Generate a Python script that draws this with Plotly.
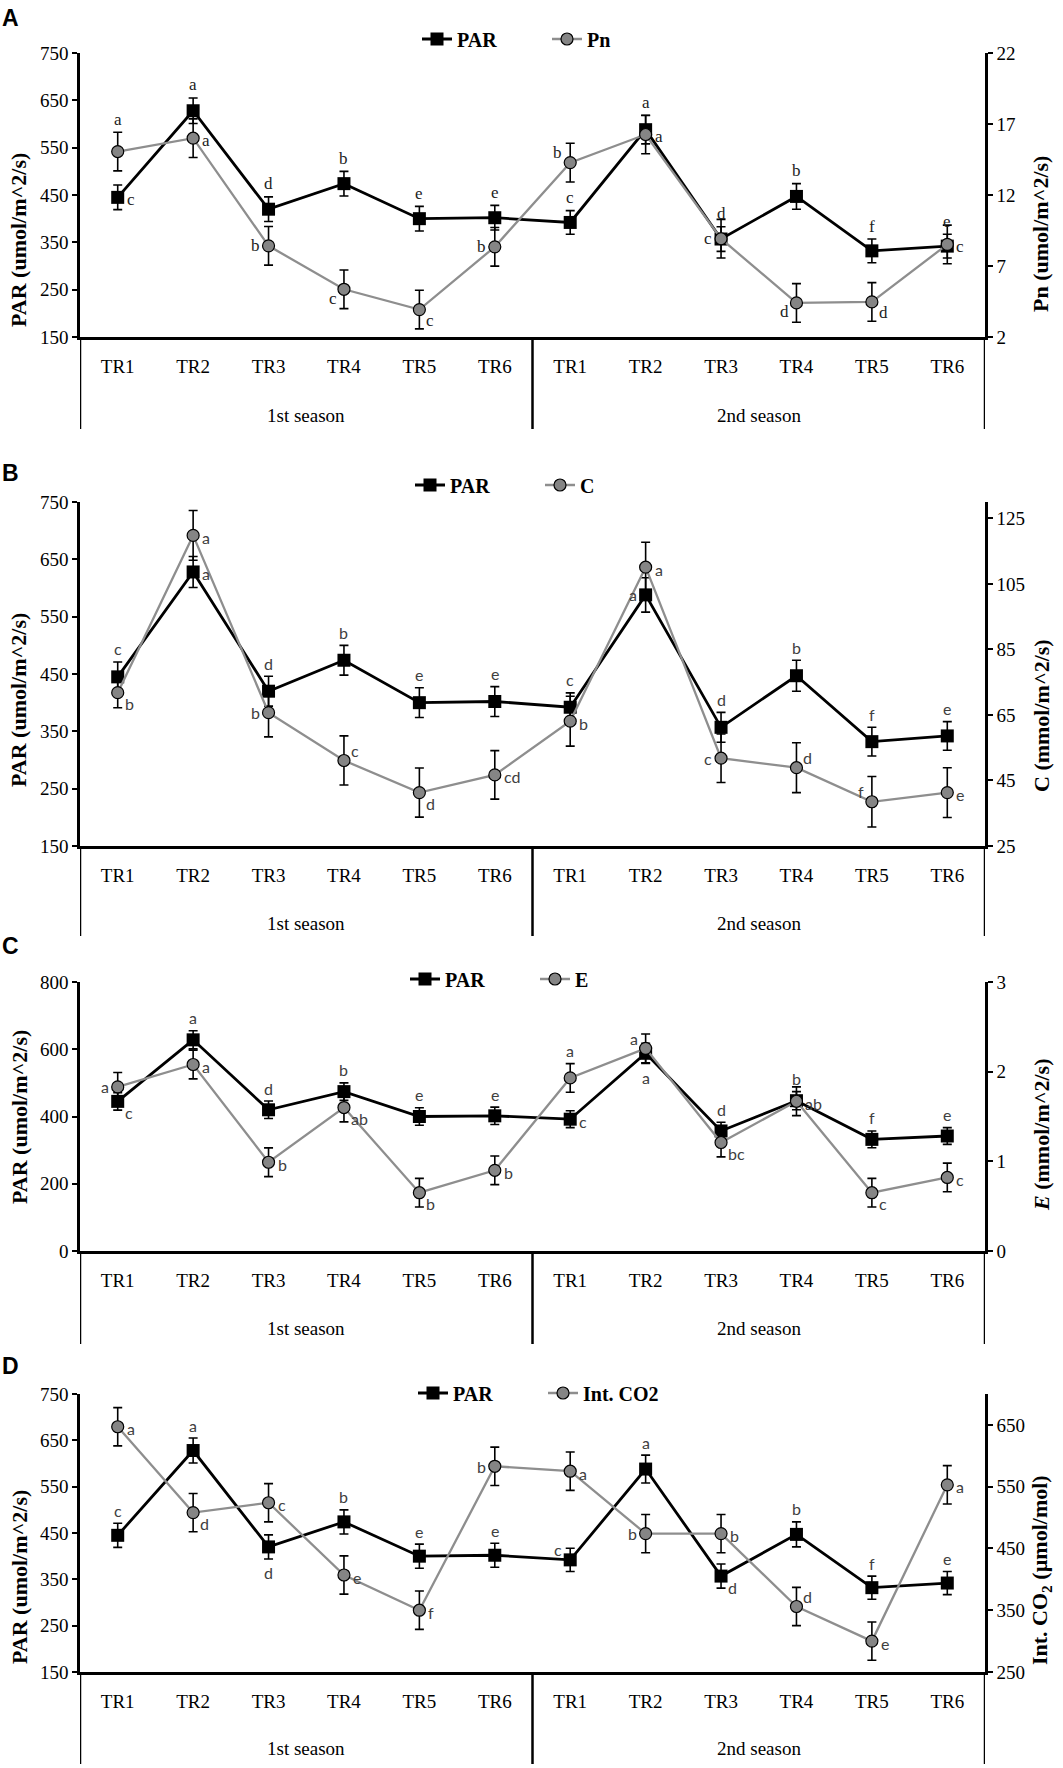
import plotly.graph_objects as go

# ---------------- data ----------------
seasons = ["1st season"] * 6 + ["2nd season"] * 6
treatments = ["TR1", "TR2", "TR3", "TR4", "TR5", "TR6"] * 2

par = [445, 628, 420, 474, 400, 402, 392, 588, 357, 447, 332, 342]
par_err = [26, 27, 26, 26, 26, 26, 25, 30, 26, 27, 25, 25]

pn = [15.06, 16.0, 8.42, 5.36, 3.93, 8.35, 14.28, 16.26, 8.92, 4.40, 4.47, 8.52]
pn_err = [1.36] * 12

cond = [71.8, 119.8, 65.7, 51.1, 41.3, 46.7, 63.1, 110.1, 51.8, 48.9, 38.5, 41.3]
cond_err = [4.6, 7.6, 7.4, 7.5, 7.5, 7.4, 7.6, 7.6, 7.4, 7.6, 7.7, 7.6]

evap = [1.83, 2.08, 0.99, 1.60, 0.65, 0.90, 1.93, 2.26, 1.21, 1.67, 0.65, 0.82]
evap_err = [0.16] * 12

co2 = [647, 508, 524, 407, 350, 583, 575, 474, 474, 356, 300, 553]
co2_err = [31] * 12

# significance letters
par_letters = ["c", "a", "d", "b", "e", "e", "c", "a", "d", "b", "f", "e"]
pn_letters = ["a", "a", "b", "c", "c", "b", "b", "a", "c", "d", "d", "c"]
cond_letters = ["b", "a", "b", "c", "d", "cd", "b", "a", "c", "d", "f", "e"]
evap_letters = ["a", "a", "b", "ab", "b", "b", "a", "a", "bc", "ab", "c", "c"]
co2_letters = ["a", "d", "c", "e", "f", "b", "a", "b", "b", "d", "e", "a"]

# letter placement codes (relative to marker)
A_par_pos = ["r", "t", "t", "t", "t", "t", "t", "t", "t", "t", "t", "t"]
A_sec_pos = ["t", "r", "l", "bl", "br", "l", "tl", "r", "l", "bl", "br", "r"]
B_par_pos = ["t", "r", "t", "t", "t", "t", "t", "l", "t", "t", "t", "t"]
B_sec_pos = ["br", "r", "l", "tr", "br", "r", "r", "r", "l", "tr", "tl", "r"]
C_par_pos = ["br", "t", "t", "t", "t", "t", "r", "b", "t", "t", "t", "t"]
C_sec_pos = ["l", "r", "r", "br", "br", "r", "t", "tl", "br", "r", "br", "r"]
D_par_pos = ["t", "t", "b", "t", "t", "t", "tl", "t", "br", "t", "t", "t"]
D_sec_pos = ["r", "br", "r", "r", "r", "l", "r", "l", "r", "tr", "r", "r"]

# ---------------- layout geometry ----------------
W, H = 1063, 1768
X0, X1 = 80 / W, 985 / W

panels = [
    dict(label="A", top=53, axis=337, season_y=415, bottom=429, labely=18, legy=39, legx=547,
         ltitle_y=240, rtitle_y=234,
         lrange=[150, 750], ltick=list(range(150, 751, 100)),
         rrange=[2, 22], rtick=[2, 7, 12, 17, 22],
         sec=pn, sec_err=pn_err, sec_letters=pn_letters, sec_name="Pn",
         rtitle="Pn (umol/m^2/s)", par_pos=A_par_pos, sec_pos=A_sec_pos,
         letterfont="Liberation Serif", lettercolor="#222222", lettersize=17),
    dict(label="B", top=502, axis=846, season_y=923, bottom=936, labely=473, legy=485, legx=540,
         ltitle_y=700, rtitle_y=716,
         lrange=[150, 750], ltick=list(range(150, 751, 100)),
         rrange=[25, 130], rtick=[25, 45, 65, 85, 105, 125],
         sec=cond, sec_err=cond_err, sec_letters=cond_letters, sec_name="C",
         rtitle="C (mmol/m^2/s)", par_pos=B_par_pos, sec_pos=B_sec_pos,
         letterfont="Lato", lettercolor="#404040", lettersize=16),
    dict(label="C", top=982, axis=1251, season_y=1328, bottom=1344, labely=946, legy=979, legx=535,
         ltitle_y=1117, rtitle_y=1135,
         lrange=[0, 800], ltick=[0, 200, 400, 600, 800],
         rrange=[0, 3], rtick=[0, 1, 2, 3],
         sec=evap, sec_err=evap_err, sec_letters=evap_letters, sec_name="E",
         rtitle="<i>E</i> (mmol/m^2/s)", par_pos=C_par_pos, sec_pos=C_sec_pos,
         letterfont="Lato", lettercolor="#404040", lettersize=16),
    dict(label="D", top=1394, axis=1672, season_y=1748, bottom=1764, labely=1366, legy=1393, legx=543,
         ltitle_y=1577, rtitle_y=1570,
         lrange=[150, 750], ltick=list(range(150, 751, 100)),
         rrange=[250, 700], rtick=[250, 350, 450, 550, 650],
         sec=co2, sec_err=co2_err, sec_letters=co2_letters, sec_name="Int. CO2",
         rtitle="Int. CO<sub>2</sub> (µmol/mol)", par_pos=D_par_pos, sec_pos=D_sec_pos,
         letterfont="Lato", lettercolor="#404040", lettersize=16),
]

SERIF = "Liberation Serif"
offsets = {
    "r": ("left", 7, -2), "l": ("right", -7, 0),
    "tr": ("left", 5, 10), "tl": ("right", -6, 10),
    "br": ("left", 5, -11), "bl": ("right", -5, -9),
    "t": ("center", 0, 13), "b": ("center", 0, -14),
}

xpos = list(range(len(treatments)))
season_names = list(dict.fromkeys(seasons))
season_centers = [sum(i for i, s in enumerate(seasons) if s == n) / seasons.count(n)
                  for n in season_names]
# group boundaries (outer edges and between seasons)
bounds = [-0.5] + [i + 0.5 for i in range(len(seasons) - 1) if seasons[i] != seasons[i + 1]] \
         + [len(seasons) - 0.5]

fig = go.Figure()
layout = dict(width=W, height=H, margin=dict(l=0, r=0, t=0, b=0, autoexpand=False),
              plot_bgcolor="white", paper_bgcolor="white", template="none",
              font=dict(family=SERIF, color="black", size=19))
annotations = []
shapes = []

for k, p in enumerate(panels, start=1):
    xa = "x" if k == 1 else f"x{k}"
    ya = "y" if k == 1 else f"y{k}"
    yb = f"y{k + 4}"
    leg = "legend" if k == 1 else f"legend{k}"
    dom = [1 - p["axis"] / H, 1 - p["top"] / H]

    fig.add_trace(go.Scatter(
        x=xpos, y=par, name="PAR", xaxis=xa, yaxis=ya, legend=leg,
        mode="lines+markers",
        line=dict(color="black", width=2.8),
        marker=dict(symbol="square", size=13, color="black"),
        error_y=dict(type="data", array=par_err, color="black", thickness=1.6, width=4.5),
        cliponaxis=False))
    fig.add_trace(go.Scatter(
        x=xpos, y=p["sec"], name=p["sec_name"], xaxis=xa, yaxis=yb, legend=leg,
        mode="lines+markers",
        line=dict(color="#8e8e8e", width=2.3),
        marker=dict(symbol="circle", size=12, color="#858585",
                    line=dict(color="black", width=1.2)),
        error_y=dict(type="data", array=p["sec_err"], color="black", thickness=1.6, width=4.5),
        cliponaxis=False))

    axkey = "xaxis" if k == 1 else f"xaxis{k}"
    layout[axkey] = dict(
        domain=[X0, X1], anchor=ya, range=[-0.5, len(xpos) - 0.5], automargin=False,
        tickvals=xpos, ticktext=treatments,
        showline=True, linecolor="black", linewidth=3,
        ticks="", ticklabelstandoff=10, showgrid=False, zeroline=False,
        tickfont=dict(family=SERIF, size=19, color="black"))
    ykey = "yaxis" if k == 1 else f"yaxis{k}"
    layout[ykey] = dict(
        domain=dom, anchor=xa, range=p["lrange"], tickvals=p["ltick"], automargin=False,
        showline=True, linecolor="black", linewidth=2.5,
        ticks="outside", ticklen=5, tickwidth=2, tickcolor="black",
        showgrid=False, zeroline=False,
        tickfont=dict(family=SERIF, size=19, color="black"))
    layout[f"yaxis{k + 4}"] = dict(
        domain=dom, anchor=xa, overlaying=ya, side="right", automargin=False,
        range=p["rrange"], tickvals=p["rtick"],
        showline=True, linecolor="black", linewidth=2.5,
        ticks="outside", ticklen=5, tickwidth=2, tickcolor="black",
        showgrid=False, zeroline=False,
        tickfont=dict(family=SERIF, size=19, color="black"))
    layout[leg] = dict(
        orientation="h", x=p["legx"] / W, xanchor="center",
        y=1 - p["legy"] / H, yanchor="middle",
        bgcolor="rgba(0,0,0,0)", entrywidth=85,
        font=dict(family=SERIF, size=20, color="black", weight="bold"))

    # group dividers below the category axis
    for b in bounds:
        shapes.append(dict(
            type="line", xref=xa, yref="paper", x0=b, x1=b,
            y0=1 - p["axis"] / H, y1=1 - p["bottom"] / H,
            line=dict(color="black", width=2.5)))
    # season labels
    for name, cx in zip(season_names, season_centers):
        annotations.append(dict(
            text=name, xref=xa, yref="paper", x=cx, y=1 - p["season_y"] / H,
            xanchor="center", yanchor="middle", showarrow=False,
            font=dict(family=SERIF, size=19, color="black")))

    # panel label
    annotations.append(dict(
        text=f"<b>{p['label']}</b>", xref="paper", yref="paper",
        x=0.0, y=1 - p["labely"] / H, xanchor="left", yanchor="middle",
        showarrow=False, font=dict(family="Liberation Sans", size=23, color="black")))
    # axis titles
    annotations.append(dict(
        text="<b>PAR (umol/m^2/s)</b>", xref="paper", yref="paper",
        x=19 / W, y=1 - p["ltitle_y"] / H, textangle=-90,
        xanchor="center", yanchor="middle", showarrow=False,
        font=dict(family=SERIF, size=22, color="black")))
    annotations.append(dict(
        text=f"<b>{p['rtitle']}</b>", xref="paper", yref="paper",
        x=1041 / W, y=1 - p["rtitle_y"] / H, textangle=-90,
        xanchor="center", yanchor="middle", showarrow=False,
        font=dict(family=SERIF, size=22, color="black")))

    # significance letters
    for vals, errs, letters, poss, yref in [
        (par, par_err, par_letters, p["par_pos"], ya),
        (p["sec"], p["sec_err"], p["sec_letters"], p["sec_pos"], yb),
    ]:
        for i, (v, e, t, pos) in enumerate(zip(vals, errs, letters, poss)):
            anchor, dx, dy = offsets[pos]
            yv = v + e if pos == "t" else (v - e if pos == "b" else v)
            annotations.append(dict(
                text=t, xref=xa, yref=yref, x=xpos[i], y=yv,
                xanchor=anchor, yanchor="middle", xshift=dx, yshift=dy,
                showarrow=False,
                font=dict(family=p["letterfont"], size=p["lettersize"], color=p["lettercolor"])))

layout["annotations"] = annotations
layout["shapes"] = shapes
fig.update_layout(**layout)
fig.write_html(
    "out.html",
    config={"displayModeBar": False},
    post_script="document.body.style.margin='0px';document.body.style.overflow='hidden';")
